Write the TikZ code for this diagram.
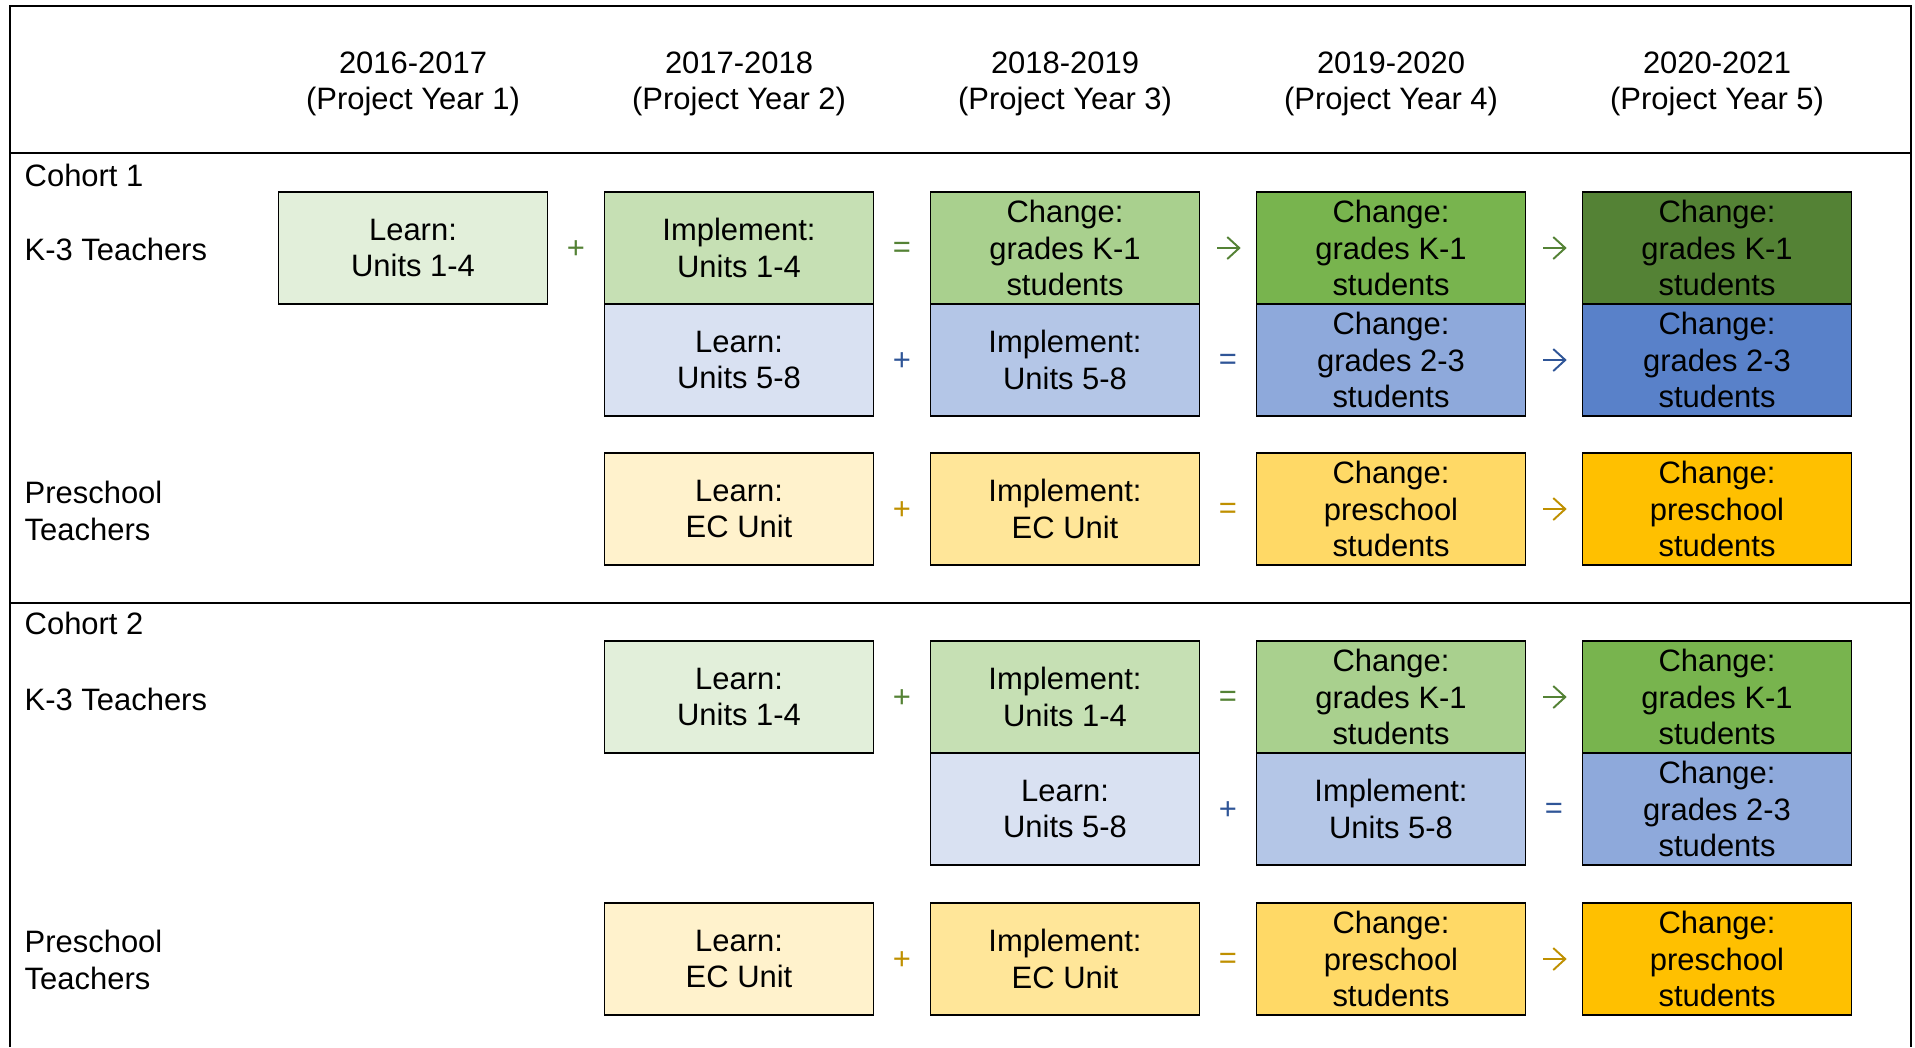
\documentclass[tikz,border=0pt]{standalone}
\usepackage{fontspec}
\setmainfont{Liberation Sans}
\usepackage{xcolor}
\usepackage{tikz}
\usetikzlibrary{arrows.meta}

\definecolor{grnA}{HTML}{E2EFDA}
\definecolor{grnB}{HTML}{C6E0B4}
\definecolor{grnC}{HTML}{A9D08E}
\definecolor{grnD}{HTML}{78B44E}
\definecolor{grnE}{HTML}{548235}
\definecolor{bluA}{HTML}{D9E1F2}
\definecolor{bluB}{HTML}{B4C6E7}
\definecolor{bluC}{HTML}{8EA9DB}
\definecolor{bluD}{HTML}{5981C9}
\definecolor{yelA}{HTML}{FFF2CC}
\definecolor{yelB}{HTML}{FFE699}
\definecolor{yelC}{HTML}{FFD966}
\definecolor{yelD}{HTML}{FFC000}
\definecolor{opgrn}{HTML}{548235}
\definecolor{opblu}{HTML}{2F5597}
\definecolor{opyel}{HTML}{BF9000}

\begin{document}
\begin{tikzpicture}[x=0.01cm, y=-0.01cm,
	cell/.style={draw, line width=0.5pt, minimum width=2.687cm, minimum height=1.12cm, inner sep=0pt, align=center, font=\fontsize{8.8}{10.4}\selectfont},
	op/.style={inner sep=0pt, font=\fontsize{8.8}{10.4}\selectfont},
	arr/.style={line width=0.55pt, -{Straight Barb[length=0.12cm, width=0.22cm]}, shorten <=0.17cm, shorten >=0.15cm},
	lbl/.style={anchor=west, align=left, inner sep=0pt, font=\fontsize{8.8}{10.4}\selectfont},
	yr/.style={align=center, inner sep=0pt, font=\fontsize{8.8}{10.4}\selectfont}]

\useasboundingbox (0,0) rectangle (1915,1047);

% frame
\draw[line width=0.5pt] (10,1047)--(10,6)--(1911,6)--(1911,1047);
\foreach \a in {153,603}{
	\draw[line width=0.5pt] (10,\a)--(1911,\a);
}

% years
\node[yr] (y1) at (413,84) {2016-2017\\(Project Year 1)};
\node[yr] (y2) at (739,84) {2017-2018\\(Project Year 2)};
\node[yr] (y3) at (1065,84) {2018-2019\\(Project Year 3)};
\node[yr] (y4) at (1391,84) {2019-2020\\(Project Year 4)};
\node[yr] (y5) at (1717,84) {2020-2021\\(Project Year 5)};

% row labels
\node[lbl] (co1) at (24,175) {Cohort 1};
\node[lbl] (k31) at (24,249) {K-3 Teachers};
\node[lbl] (ps1) at (24,511) {Preschool\\Teachers};
\node[lbl] (co2) at (24,623) {Cohort 2};
\node[lbl] (k32) at (24,699) {K-3 Teachers};
\node[lbl] (ps2) at (24,960) {Preschool\\Teachers};

% cohort 1
\node[cell, fill=grnA] (c1a1) at (413,248) {Learn:\\Units 1-4};
\node[cell, fill=grnB] (c1a2) at (739,248) {Implement:\\Units 1-4};
\node[cell, fill=grnC] (c1a3) at (1065,248) {Change:\\grades K-1\\students};
\node[cell, fill=grnD] (c1a4) at (1391,248) {Change:\\grades K-1\\students};
\node[cell, fill=grnE] (c1a5) at (1717,248) {Change:\\grades K-1\\students};

\node[cell, fill=bluA] (c1b2) at (739,360) {Learn:\\Units 5-8};
\node[cell, fill=bluB] (c1b3) at (1065,360) {Implement:\\Units 5-8};
\node[cell, fill=bluC] (c1b4) at (1391,360) {Change:\\grades 2-3\\students};
\node[cell, fill=bluD] (c1b5) at (1717,360) {Change:\\grades 2-3\\students};

\node[cell, fill=yelA] (c1p2) at (739,509) {Learn:\\EC Unit};
\node[cell, fill=yelB] (c1p3) at (1065,509) {Implement:\\EC Unit};
\node[cell, fill=yelC] (c1p4) at (1391,509) {Change:\\preschool\\students};
\node[cell, fill=yelD] (c1p5) at (1717,509) {Change:\\preschool\\students};

\node[op, text=opgrn] (c1a12) at (576,250) {+};
\node[op, text=opgrn] (c1a23) at (902,250) {=};
\draw[arr, opgrn] (c1a3) -- (c1a4);
\draw[arr, opgrn] (c1a4) -- (c1a5);
\node[op, text=opblu] (c1b23) at (902,362) {+};
\node[op, text=opblu] (c1b34) at (1228,362) {=};
\draw[arr, opblu] (c1b4) -- (c1b5);
\node[op, text=opyel] (c1p23) at (902,511) {+};
\node[op, text=opyel] (c1p34) at (1228,511) {=};
\draw[arr, opyel] (c1p4) -- (c1p5);

% cohort 2
\node[cell, fill=grnA] (c2a2) at (739,697) {Learn:\\Units 1-4};
\node[cell, fill=grnB] (c2a3) at (1065,697) {Implement:\\Units 1-4};
\node[cell, fill=grnC] (c2a4) at (1391,697) {Change:\\grades K-1\\students};
\node[cell, fill=grnD] (c2a5) at (1717,697) {Change:\\grades K-1\\students};

\node[cell, fill=bluA] (c2b3) at (1065,809) {Learn:\\Units 5-8};
\node[cell, fill=bluB] (c2b4) at (1391,809) {Implement:\\Units 5-8};
\node[cell, fill=bluC] (c2b5) at (1717,809) {Change:\\grades 2-3\\students};

\node[cell, fill=yelA] (c2p2) at (739,959) {Learn:\\EC Unit};
\node[cell, fill=yelB] (c2p3) at (1065,959) {Implement:\\EC Unit};
\node[cell, fill=yelC] (c2p4) at (1391,959) {Change:\\preschool\\students};
\node[cell, fill=yelD] (c2p5) at (1717,959) {Change:\\preschool\\students};

\node[op, text=opgrn] (c2a23) at (902,699) {+};
\node[op, text=opgrn] (c2a34) at (1228,699) {=};
\draw[arr, opgrn] (c2a4) -- (c2a5);
\node[op, text=opblu] (c2b34) at (1228,811) {+};
\node[op, text=opblu] (c2b45) at (1554,811) {=};
\node[op, text=opyel] (c2p23) at (902,961) {+};
\node[op, text=opyel] (c2p34) at (1228,961) {=};
\draw[arr, opyel] (c2p4) -- (c2p5);

\end{tikzpicture}
\end{document}
